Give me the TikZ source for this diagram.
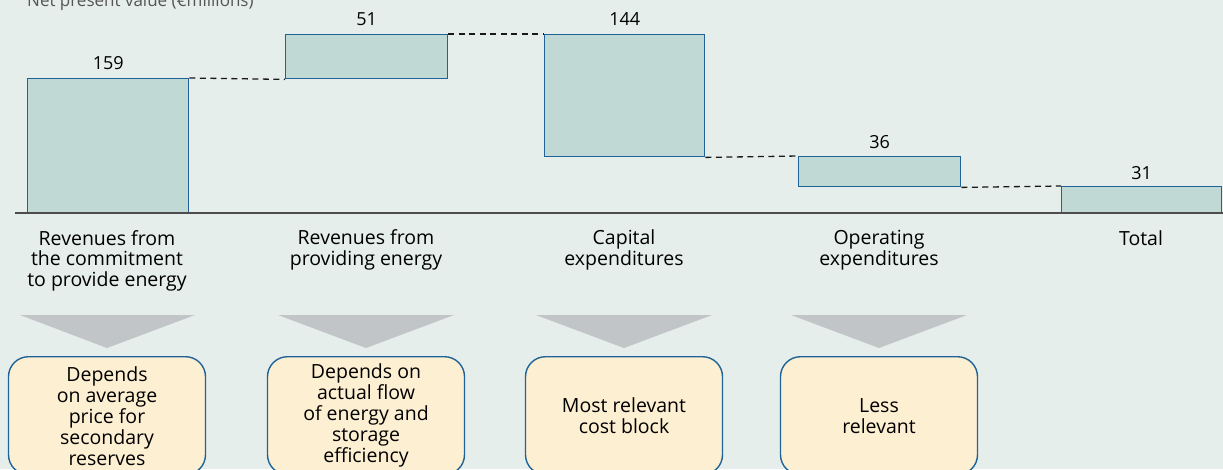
\documentclass[tikz,border=0pt]{standalone}
\usepackage{fontspec}
\setmainfont{Open Sans}
\definecolor{bgc}{HTML}{E5EEEB}
\definecolor{barfill}{HTML}{C0D9D4}
\definecolor{barline}{HTML}{1F6399}
\definecolor{chevc}{HTML}{C1C5C8}
\definecolor{boxfill}{HTML}{FDEFD1}
\definecolor{axisc}{HTML}{4D4D4D}
\definecolor{titlec}{HTML}{555555}
\begin{document}
\begin{tikzpicture}[x=1pt,y=-1pt,
  bar/.style={draw=barline, fill=barfill, line width=1.4pt, inner sep=0pt, anchor=north west},
  val/.style={font={\fontsize{18}{20}\selectfont}, anchor=base, inner sep=0pt},
  cat/.style={font={\fontsize{19.5}{20.5}\selectfont}, align=center, anchor=base, inner sep=0pt},
  dline/.style={dashed, dash pattern=on 6pt off 4.5pt, line width=1.3pt, black!90},
  chev/.style={fill=chevc},
  infobox/.style={draw=barline, fill=boxfill, line width=1.4pt, rounded corners=20pt,
    minimum width=197pt, minimum height=118pt, anchor=north, align=center,
    font={\fontsize{19.5}{21}\selectfont}, inner sep=0pt}]
\path[use as bounding box, fill=bgc] (0,0) rectangle (1223,469);
% title
\node[anchor=base west, inner sep=0pt, text=titlec, font={\fontsize{17}{20}\selectfont}] (title) at (27,6) {Net present value (€millions)};
% bars
\node[bar, minimum width=161pt, minimum height=134pt] (b1) at (27,78) {};
\node[bar, minimum width=162pt, minimum height=44pt] (b2) at (285,34) {};
\node[bar, minimum width=160pt, minimum height=122pt] (b3) at (544,34) {};
\node[bar, minimum width=162pt, minimum height=30pt] (b4) at (798,156) {};
\node[bar, minimum width=160pt, minimum height=26pt] (b5) at (1061,186) {};
% axis
\coordinate (axl) at (15,213);
\coordinate (axr) at (1223,213);
\draw[axisc, line width=2pt] (axl) -- (axr);
% dashed connectors
\draw[dline] (b1.north east) -- (b2.south west);
\draw[dline] (b2.north east) -- (b3.north west);
\draw[dline] (b3.south east) -- (b4.north west);
\draw[dline] (b4.south east) -- (b5.north west);
% values
\node[val] (v1) at ([yshift=9pt]b1.north) {159};
\node[val] (v2) at ([yshift=9pt]b2.north) {51};
\node[val] (v3) at ([yshift=9pt]b3.north) {144};
\node[val] (v4) at ([yshift=8pt]b4.north) {36};
\node[val] (v5) at ([yshift=7pt]b5.north) {31};
% category labels (anchor = baseline of last line)
\node[cat] (c1) at (107,286) {Revenues from\\the commitment\\to provide energy};
\node[cat] (c2) at (366,265) {Revenues from\\providing energy};
\node[cat] (c3) at (624,265) {Capital\\expenditures};
\node[cat] (c4) at (879,265) {Operating\\expenditures};
\node[cat] (c5) at (1141,245) {Total};
% chevrons
\fill[chev] (20,315) -- (195,315) -- (107,348) -- cycle;
\fill[chev] (278,315) -- (454,315) -- (366,348) -- cycle;
\fill[chev] (536,315) -- (712,315) -- (624,348) -- cycle;
\fill[chev] (791,315) -- (967,315) -- (879,348) -- cycle;
% boxes
\node[infobox] (k1) at (107,356) {Depends\\on average\\price for\\secondary\\reserves};
\node[infobox] (k2) at (366,356) {Depends on\\actual flow\\of energy and\\storage\\efficiency};
\node[infobox] (k3) at (624,356) {Most relevant\\cost block};
\node[infobox] (k4) at (879,356) {Less\\relevant};
\end{tikzpicture}
\end{document}
